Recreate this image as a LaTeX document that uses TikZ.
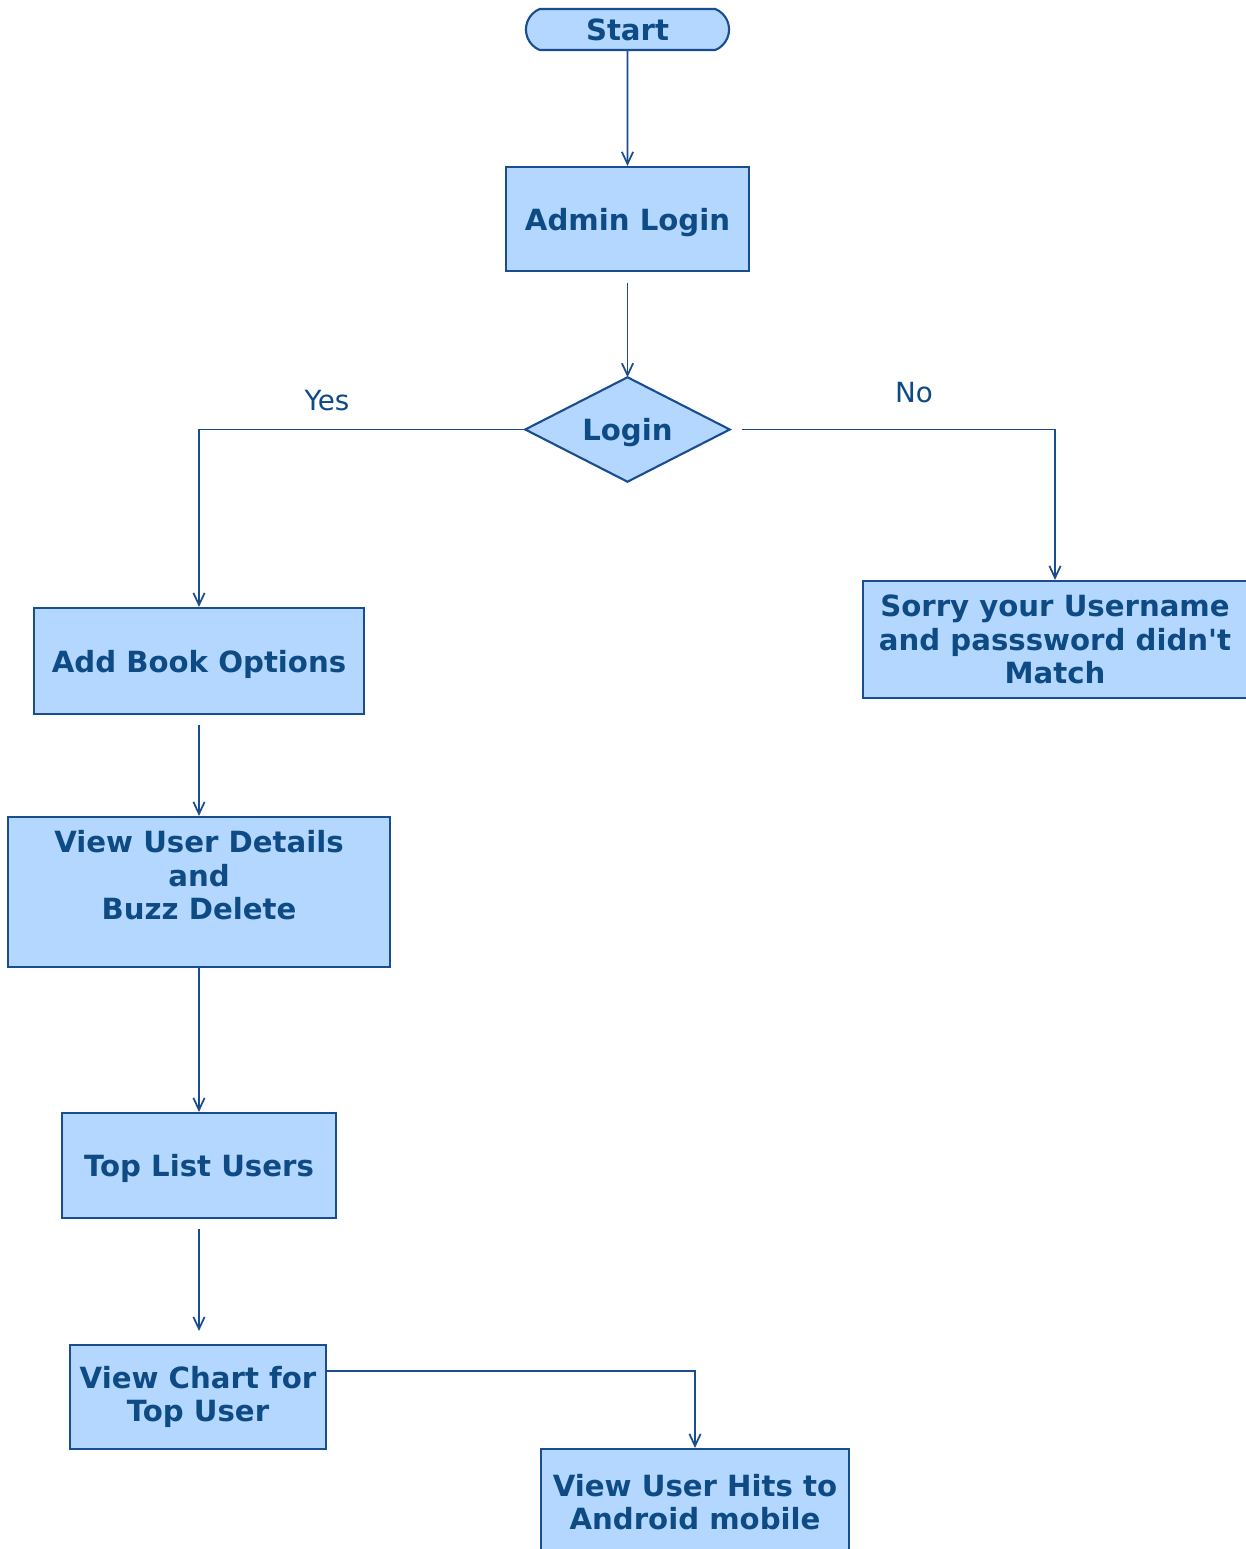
\documentclass[tikz,border=0pt]{standalone}
\usepackage{fontspec}
\setmainfont{DejaVu Sans}
\usetikzlibrary{arrows.meta,shapes.misc,backgrounds}
\definecolor{lnc}{HTML}{1A4D8F}
\definecolor{fillc}{HTML}{B3D7FF}
\definecolor{txtc}{HTML}{0E4A84}
\tikzset{
 txt/.style={text=txtc, font=\fontsize{8.3}{9.5}\selectfont\bfseries, align=center, inner sep=0pt},
 box/.style={txt, draw=lnc, line width=0.6pt, fill=fillc},
 conn/.style={draw=lnc, line width=0.5pt, -{Straight Barb[length=3.4pt,width=3.2pt]}},
 lbl/.style={text=txtc, font=\fontsize{7.9}{9}\selectfont, inner sep=0pt},
 one/.style={text depth=0pt},
}
\begin{document}
\begin{tikzpicture}[x=0.01cm,y=-0.01cm]
\clip (0,0) rectangle (1246,1549);
\node[box, rounded rectangle, rounded rectangle arc length=135, minimum width=2.03cm, minimum height=0.41cm] (start) at (627.5,29.5) {Start};
\node[box, one, minimum width=2.43cm, minimum height=1.04cm] (admin) at (627.5,219) {Admin Login};
\node[txt, one, minimum width=2.03cm, minimum height=1.03cm] (login) at (627.5,429.5) {Login};
\node[box, minimum width=3.84cm, minimum height=1.17cm] (sorry) at (1055,639.5) {Sorry your Username\\and passsword didn\textquotesingle t\\Match};
\node[box, one, minimum width=3.29cm, minimum height=1.06cm] (addbook) at (199,661) {Add Book Options};
\node[box, minimum width=3.81cm, minimum height=1.50cm] (viewuser) at (199,892) {View User Details\\and\\Buzz Delete\\\mbox{}};
\node[box, one, minimum width=2.73cm, minimum height=1.05cm] (toplist) at (199,1165.5) {Top List Users};
\node[box, minimum width=2.56cm, minimum height=1.04cm] (chart) at (198,1397) {View Chart for\\Top User};
\node[box, minimum width=3.08cm, minimum height=1.06cm] (hits) at (695,1502) {View User Hits to\\Android mobile};
\node[lbl] (yes) at (327,401) {Yes};
\node[lbl] (no) at (914,393) {No};
\begin{scope}[on background layer]
\fill[white] (0,0) rectangle (1246,1549);
\filldraw[draw=lnc, line width=0.6pt, fill=fillc, line join=miter] (login.north) -- (login.east) -- (login.south) -- (login.west) -- cycle;
\end{scope}
\draw[conn] (start) -- (admin);
\draw[conn, shorten <=0.11cm] (admin) -- (login.north);
\draw[conn] (login.west) -| (addbook.north);
\draw[conn, shorten <=0.12cm] (login.east) -| (sorry.north);
\draw[conn, shorten <=0.1cm] (addbook.south) -- (viewuser.north);
\draw[conn] (viewuser.south) -- (toplist.north);
\draw[conn, shorten <=0.1cm, shorten >=0.13cm] (toplist.south) -- (toplist.south |- chart.north);
\draw[conn] ([yshift=0.26cm]chart.east) -| (hits.north);
\end{tikzpicture}
\end{document}
